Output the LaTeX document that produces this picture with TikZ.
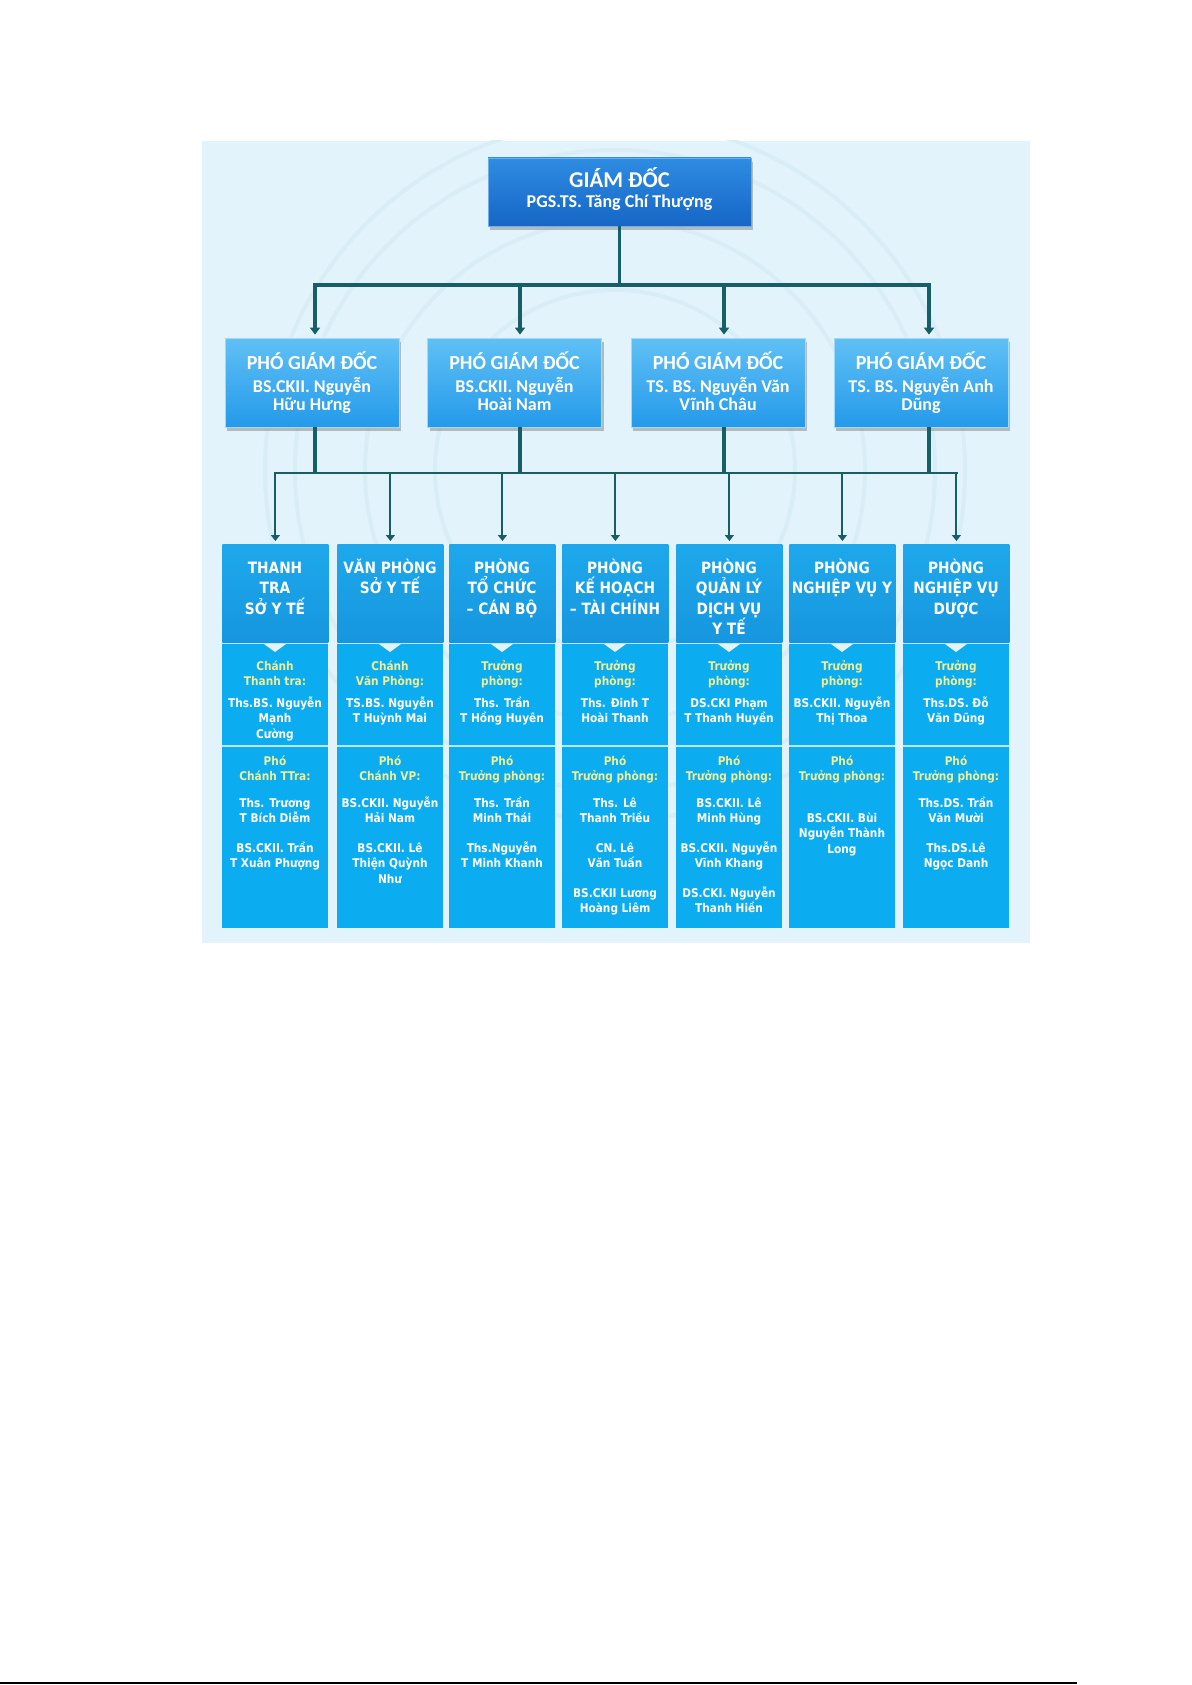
\documentclass[tikz,border=0pt]{standalone}
\usepackage{fontspec}
\setmainfont{Carlito}
\newfontfamily\dfont[FakeStretch=0.88]{DejaVu Sans}
\usetikzlibrary{arrows.meta,shadows}
\definecolor{panel}{RGB}{227,243,251}
\definecolor{motif}{RGB}{217,237,247}
\definecolor{conn}{RGB}{24,94,104}
\definecolor{gdtop}{RGB}{46,140,226}
\definecolor{gdbot}{RGB}{22,102,198}
\definecolor{pgtop}{RGB}{96,192,245}
\definecolor{pgbot}{RGB}{36,154,234}
\definecolor{dhtop}{RGB}{30,168,236}
\definecolor{dhbot}{RGB}{22,150,222}
\definecolor{dbody}{RGB}{12,172,240}
\definecolor{sepc}{RGB}{190,230,250}
\definecolor{yel}{RGB}{240,238,150}
\tikzset{
  boxshadow/.style={drop shadow={shadow xshift=1.2pt,shadow yshift=-1.8pt,fill=black!45,opacity=.55}},
  gdbox/.style={rectangle,inner sep=0,minimum width=131.5pt,minimum height=34pt,top color=gdtop,bottom color=gdbot,draw=gdtop!70!white,line width=0.4pt,boxshadow},
  pgbox/.style={rectangle,inner sep=0,minimum width=87pt,minimum height=44.5pt,top color=pgtop,bottom color=pgbot,draw=pgtop!60!white,line width=0.4pt,boxshadow},
  dhead/.style={rectangle,inner sep=0,minimum width=53pt,minimum height=49pt,top color=dhtop,bottom color=dhbot,anchor=north west},
  txt/.style={inner sep=0,align=center,anchor=base,text=white},
  gdt1/.style={txt,font=\bfseries\fontsize{11.3}{12}\selectfont},
  gdt2/.style={txt,font=\bfseries\fontsize{9}{10}\selectfont},
  pgt1/.style={txt,font=\bfseries\fontsize{10}{11}\selectfont},
  pgt2/.style={txt,font=\bfseries\fontsize{9}{8.75}\selectfont},
  dtitle/.style={txt,font=\dfont\bfseries\fontsize{7.8}{10.25}\selectfont},
  drole/.style={txt,text=yel,font=\dfont\bfseries\fontsize{6}{7.65}\selectfont},
  dname/.style={txt,font=\dfont\bfseries\fontsize{6}{7.65}\selectfont},
  c1/.style={draw=conn,line width=1.75pt},
  c2/.style={draw=conn,line width=1.3pt},
  c3/.style={draw=conn,line width=1pt},
  tip1/.style={-{Triangle[length=3.5pt,width=5pt]},shorten >=1.5pt},
  tip2/.style={-{Triangle[length=3pt,width=4.5pt]},shorten >=1.5pt}
}
\begin{document}
\begin{tikzpicture}[x=0.5pt,y=-0.5pt]
\useasboundingbox (0,0) rectangle (1192,1685);
\fill[white] (0,0) rectangle (1192,1685);
% panel
\fill[panel] (202,141) rectangle (1030,943);
\begin{scope}
\clip (202,141) rectangle (1030,943);
\foreach \r in {350,320,250,180}{\draw[motif,line width=2pt] (615,470) circle[radius=\r];}
\end{scope}
% bottom rule
\draw[line width=0.8pt] (0,1683) -- (1077,1683);

% director
\node[gdbox] (gd) at (619.5,192) {};
\node[gdt1] (gdn1) at (619.5,187.5) {GIÁM ĐỐC};
\node[gdt2] (gdn2) at (619.5,207.5) {PGS.TS. Tăng Chí Thượng};

% deputies
\node[pgbox] (p1) at (312,382.5) {};
\node[pgbox] (p2) at (514.5,382.5) {};
\node[pgbox] (p3) at (718,382.5) {};
\node[pgbox] (p4) at (921,382.5) {};
\node[pgt1] (p1t) at (312,369.5) {PHÓ GIÁM ĐỐC};
\node[pgt1] (p2t) at (514.5,369.5) {PHÓ GIÁM ĐỐC};
\node[pgt1] (p3t) at (718,369.5) {PHÓ GIÁM ĐỐC};
\node[pgt1] (p4t) at (921,369.5) {PHÓ GIÁM ĐỐC};
\node[pgt2] (p1n) at (312,410) {BS.CKII. Nguyễn\\Hữu Hưng};
\node[pgt2] (p2n) at (514.5,410) {BS.CKII. Nguyễn\\Hoài Nam};
\node[pgt2] (p3n) at (718,410) {TS. BS. Nguyễn Văn\\Vĩnh Châu};
\node[pgt2] (p4n) at (921,410) {TS. BS. Nguyễn Anh\\Dũng};

% departments
\foreach \i/\l in {1/222,2/337,3/449,4/562,5/676,6/789,7/903}{
  \node[dhead] (d\i) at (\l,544) {};
  \fill[dbody] (\l,644) rectangle ++(106,284);
  \draw[sepc,line width=0.9pt] (\l,643.5) -- ++(106,0);
  \draw[sepc,line width=0.9pt] (\l,746) -- ++(106,0);
  \fill[panel] (\l+42,644) -- (\l+64,644) -- (\l+53,652) -- cycle;
}

% connectors upper
\coordinate (j1) at (619.5,285);
\coordinate (u1) at (315,285);
\coordinate (u2) at (520,285);
\coordinate (u3) at (724,285);
\coordinate (u4) at (929,285);
\draw[c1] (gd.south) -- (j1);
\draw[c1] ([xshift=-0.8pt]u1) -- ([xshift=0.8pt]u4);
\foreach \i in {1,2,3,4}{\draw[c1,tip1] (u\i) -- (u\i |- p\i.north);}
% connectors lower
\coordinate (lb) at (615,473);
\foreach \i in {1,2,3,4}{\draw[c1] (u\i |- p\i.south) -- (u\i |- lb);}
\draw[c2] ([xshift=-0.6pt]lb -| d1.north) -- ([xshift=0.6pt]lb -| d7.north);
\foreach \i in {1,...,7}{\draw[c3,tip2] (lb -| d\i.north) -- (d\i.north);}

% department titles (anchor = baseline of last line)
\node[dtitle] (t1) at (275,614) {THANH\\TRA\\SỞ Y TẾ};
\node[dtitle] (t2) at (390,593.5) {VĂN PHÒNG\\SỞ Y TẾ};
\node[dtitle] (t3) at (502,614) {PHÒNG\\TỔ CHỨC\\– CÁN BỘ};
\node[dtitle] (t4) at (615,614) {PHÒNG\\KẾ HOẠCH\\– TÀI CHÍNH};
\node[dtitle] (t5) at (729,634.5) {PHÒNG\\QUẢN LÝ\\DỊCH VỤ\\Y TẾ};
\node[dtitle] (t6) at (842,593.5) {PHÒNG\\NGHIỆP VỤ Y};
\node[dtitle] (t7) at (956,614) {PHÒNG\\NGHIỆP VỤ\\DƯỢC};

% heads
\node[drole] (r1a) at (275,685.3) {Chánh\\Thanh tra:};
\node[drole] (r2a) at (390,685.3) {Chánh\\Văn Phòng:};
\node[drole] (r3a) at (502,685.3) {Trưởng\\phòng:};
\node[drole] (r4a) at (615,685.3) {Trưởng\\phòng:};
\node[drole] (r5a) at (729,685.3) {Trưởng\\phòng:};
\node[drole] (r6a) at (842,685.3) {Trưởng\\phòng:};
\node[drole] (r7a) at (956,685.3) {Trưởng\\phòng:};

\node[dname] (n1a) at (275,738.1) {Ths.BS. Nguyễn\\Mạnh\\Cường};
\node[dname] (n2a) at (390,722.8) {TS.BS. Nguyễn\\T Huỳnh Mai};
\node[dname] (n3a) at (502,722.8) {Ths. Trần\\T Hồng Huyên};
\node[dname] (n4a) at (615,722.8) {Ths. Đinh T\\Hoài Thanh};
\node[dname] (n5a) at (729,722.8) {DS.CKI Phạm\\T Thanh Huyền};
\node[dname] (n6a) at (842,722.8) {BS.CKII. Nguyễn\\Thị Thoa};
\node[dname] (n7a) at (956,722.8) {Ths.DS. Đỗ\\Văn Dũng};

% deputies of departments
\node[drole] (r1b) at (275,780.8) {Phó\\Chánh TTra:};
\node[drole] (r2b) at (390,780.8) {Phó\\Chánh VP:};
\node[drole] (r3b) at (502,780.8) {Phó\\Trưởng phòng:};
\node[drole] (r4b) at (615,780.8) {Phó\\Trưởng phòng:};
\node[drole] (r5b) at (729,780.8) {Phó\\Trưởng phòng:};
\node[drole] (r6b) at (842,780.8) {Phó\\Trưởng phòng:};
\node[drole] (r7b) at (956,780.8) {Phó\\Trưởng phòng:};

\node[dname] (n1b) at (275,822.8) {Ths. Trương\\T Bích Diễm};
\node[dname] (n1c) at (275,867.8) {BS.CKII. Trần\\T Xuân Phượng};
\node[dname] (n2b) at (390,822.8) {BS.CKII. Nguyễn\\Hải Nam};
\node[dname] (n2c) at (390,883.1) {BS.CKII. Lê\\Thiện Quỳnh\\Như};
\node[dname] (n3b) at (502,822.8) {Ths. Trần\\Minh Thái};
\node[dname] (n3c) at (502,867.8) {Ths.Nguyễn\\T Minh Khanh};
\node[dname] (n4b) at (615,822.8) {Ths. Lê\\Thanh Triều};
\node[dname] (n4c) at (615,867.8) {CN. Lê\\Văn Tuấn};
\node[dname] (n4d) at (615,912.8) {BS.CKII Lương\\Hoàng Liêm};
\node[dname] (n5b) at (729,822.8) {BS.CKII. Lê\\Minh Hùng};
\node[dname] (n5c) at (729,867.8) {BS.CKII. Nguyễn\\Vĩnh Khang};
\node[dname] (n5d) at (729,912.8) {DS.CKI. Nguyễn\\Thanh Hiền};
\node[dname] (n6b) at (842,853.1) {BS.CKII. Bùi\\Nguyễn Thành\\Long};
\node[dname] (n7b) at (956,822.8) {Ths.DS. Trần\\Văn Mười};
\node[dname] (n7c) at (956,867.8) {Ths.DS.Lê\\Ngọc Danh};
\end{tikzpicture}
\end{document}
